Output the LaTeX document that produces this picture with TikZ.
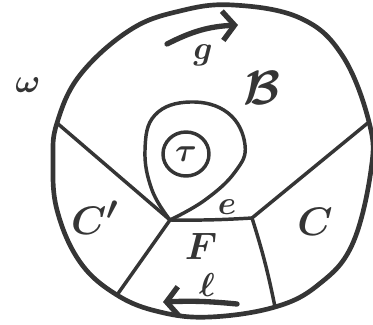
\documentclass[tikz,border=0pt]{standalone}
\usepackage{amsmath}
\usepackage{amssymb}
\usepackage{xcolor}
\usepackage{tikz}
\usetikzlibrary{positioning, arrows.meta}
\definecolor{ink}{HTML}{353535}

\begin{document}
\begin{tikzpicture}[
    x=0.75pt, y=-0.75pt,
    line cap=round, line join=round,
    rim/.style={draw=ink, line width=3.5pt},
    wall/.style={draw=ink, line width=2.6pt},
    turn/.style={draw=ink, line width=4pt, -{Straight Barb[length=9pt, width=22pt]}},
    lbl/.style={text=ink, inner sep=0pt, font=\fontsize{28}{32}\selectfont\boldmath}
]
    \useasboundingbox (0,0) rectangle (373,324);

    % Corners
    \coordinate (wl) at (57,123);
    \coordinate (wr) at (369,122);
    \coordinate (bl) at (117,295);
    \coordinate (br) at (275,307);
    \coordinate (v) at (170,220);
    \coordinate (ve) at (252,218);

    % Outer face
    \draw[rim] plot[smooth cycle, tension=0.65] coordinates {
        (233,5) (300,18) (342,55) (wr) (371,170) (352,245) (318,285) (br)
        (210,317) (160,312) (bl) (80,262) (57,210) (53,160) (wl) (80,75)
        (130,30) (180,11)};

    % Walls
    \draw[wall] (wl) -- (v);
    \draw[wall] (v) -- (bl);
    \draw[wall] (v) to[bend right=2] (ve);
    \draw[wall] (ve) -- (wr);
    \draw[wall] (ve) to[bend left=3] (br);

    % Loop
    \draw[wall] plot[smooth, tension=0.7] coordinates {
        (v) (152,190) (145,150) (155,115) (190,102) (228,113) (245,145)
        (235,172) (205,200) (v)};
    \node[lbl] (tau) at (186,154) {$\tau$};
    \draw[wall] (tau) ellipse[x radius=23, y radius=22];

    % Arrows
    \coordinate (g0) at (167,44);
    \coordinate (g1) at (238,25);
    \draw[turn] (g0) to[bend left=12] (g1);
    \coordinate (l0) at (237,304);
    \coordinate (l1) at (163,302);
    \draw[turn] (l0) to[bend right=4] (l1);

    % Labels
    \node[lbl] (om) at (28,85) {$\omega$};
    \node[lbl] (g) at (203,55) {$g$};
    \node[lbl] (B) at (262,88) {\scalebox{1.45}{$\mathcal{B}$}};
    \node[lbl] (Cp) at (95,218) {\scalebox{1.2}{$C'$}};
    \node[lbl] (e) at (227,207) {$e$};
    \node[lbl] (C) at (315,222) {\scalebox{1.2}{$C$}};
    \node[lbl] (F) at (201,246) {\scalebox{1.15}{$F$}};
    \node[lbl] (l) at (207,285) {$\ell$};

\end{tikzpicture}
\end{document}
